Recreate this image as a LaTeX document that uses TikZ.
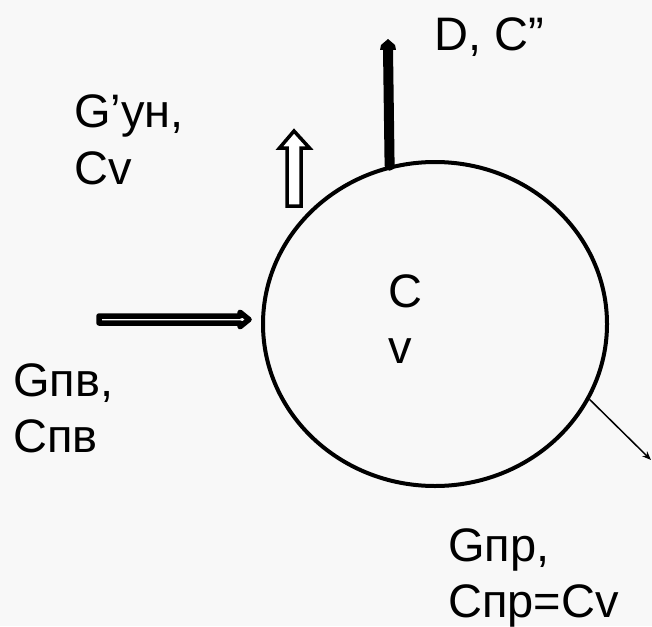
\documentclass[tikz,border=0pt]{standalone}
\usepackage{fontspec}
\setmainfont{Liberation Sans}
\usetikzlibrary{arrows.meta,shapes.geometric,calc}
\definecolor{bgc}{RGB}{248,248,248}
\tikzset{
  lbl/.style={anchor=base west, inner sep=0pt, font=\fontsize{47}{50}\selectfont},
  tankbox/.style={ellipse, draw, line width=4pt, minimum width=344pt, minimum height=324pt, inner sep=0pt},
  thickflow/.style={line width=10pt, line cap=round},
  hollow/.style={draw, fill=white, line width=3.5pt, line join=miter},
  dbl/.style={draw, fill=white, line width=5.5pt, line join=round},
  thin/.style={line width=1.5pt, -{Stealth[length=9pt,width=7pt]}}
}
\begin{document}
\begin{tikzpicture}[x=1pt,y=1pt]
\fill[bgc] (0,0) rectangle (652,-626);
\useasboundingbox (0,0) rectangle (652,-626);
% tank
\node[tankbox] (tank) at (435,-324) {};
\node[lbl] (c) at (388,-307) {C};
\node[lbl] (v) at (388,-363) {v};
% thick arrow up (D, C'')
\coordinate (dtop) at (388,-49);
\draw[thickflow] (tank.106) -- (dtop);
\fill (380,-50) -- (381,-45) -- (388,-39) -- (395,-45) -- (396,-50) -- cycle;
% hollow up arrow
\coordinate (ha) at (294,-206);
\coordinate (hb) at (294,-131);
\path[hollow] ($(ha)+(-7,0)$) -- (287,-148) -- (279.5,-148) -- (hb) -- (309.5,-148) -- (301,-148) -- ($(ha)+(7,0)$) -- cycle;
% horizontal double arrow
\coordinate (la) at (99,-319.5);
\coordinate (lb) at (249,-319.5);
\path[dbl] ($(la)+(0,3.5)$) -- (240,-316) -- (240,-312.25) -- (lb) -- (240,-326.75) -- (240,-323) -- ($(la)+(0,-3.5)$) -- cycle;
% thin outflow arrow
\coordinate (out) at (651,-460);
\draw[thin] (tank.-26) -- (out);
% labels
\node[lbl] (t1) at (434,-51) {D, C”};
\node[lbl] (t2) at (74,-127) {G’ун,};
\node[lbl] (t3) at (74,-184) {Cv};
\node[lbl] (t4) at (13,-396) {Gпв,};
\node[lbl] (t5) at (13,-452) {Cпв};
\node[lbl] (t6) at (448,-561) {Gпр,};
\node[lbl] (t7) at (448,-617) {Cпр=Cv};
\end{tikzpicture}
\end{document}
